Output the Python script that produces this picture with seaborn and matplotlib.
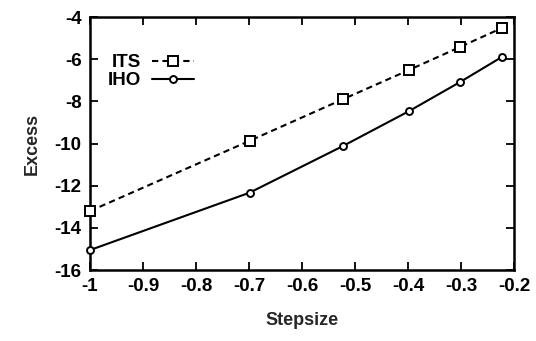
import matplotlib
matplotlib.use("Agg")
import matplotlib.pyplot as plt
import seaborn as sns
import pandas as pd

stepsize = [-1.0, -0.699, -0.523, -0.398, -0.301, -0.222]
its = [-13.2, -9.87, -7.90, -6.51, -5.41, -4.51]
iho = [-15.05, -12.33, -10.12, -8.46, -7.07, -5.88]
xticks = [-1, -0.9, -0.8, -0.7, -0.6, -0.5, -0.4, -0.3, -0.2]
yticks = [-16, -14, -12, -10, -8, -6, -4]

sns.set_theme(style="ticks")
plt.rcParams['font.family'] = ['Liberation Sans', 'DejaVu Sans']
plt.rcParams['font.weight'] = 'bold'

fig = plt.figure(figsize=(5.36, 3.41), dpi=100)
ax = fig.add_axes([0.168, 0.208, 0.791, 0.742])

df_its = pd.DataFrame({"x": stepsize, "y": its})
df_iho = pd.DataFrame({"x": stepsize, "y": iho})
sns.lineplot(data=df_its, x="x", y="y", ax=ax, color="black", linestyle=(0, (3, 2)),
             marker="s", markersize=6.5, markerfacecolor="white", markeredgecolor="black",
             markeredgewidth=1.4, linewidth=1.5, label="ITS", clip_on=False, zorder=3)
sns.lineplot(data=df_iho, x="x", y="y", ax=ax, color="black", linestyle="-",
             marker="o", markersize=5, markerfacecolor="white", markeredgecolor="black",
             markeredgewidth=1.4, linewidth=1.5, label="IHO", clip_on=False, zorder=3)

ax.set_xlim(-1, -0.2)
ax.set_ylim(-16, -4)
ax.set_xticks(xticks)
ax.set_xticklabels([f"{t:g}" for t in xticks])
ax.set_yticks(yticks)
ax.set_yticklabels([f"{t:g}" for t in yticks])
ax.tick_params(direction="in", top=True, right=True, length=6, width=1.3,
               labelsize=13.5, pad=6, color="black", labelcolor="black")
for s in ax.spines.values():
    s.set_linewidth(1.8)
    s.set_color("black")
ax.set_xlabel("Stepsize", fontsize=13, fontweight="bold", labelpad=12)
ax.set_ylabel("Excess", fontsize=13, fontweight="bold", labelpad=10)

leg = ax.legend(loc="upper left", bbox_to_anchor=(0.02, 0.89), frameon=False,
                markerfirst=False, prop={"size": 13.5, "weight": "bold"},
                handlelength=2.2, labelspacing=0.05, handletextpad=0.6, borderpad=0)
for t in leg.get_texts():
    t.set_color("black")

fig.savefig("out.png", dpi=100)
